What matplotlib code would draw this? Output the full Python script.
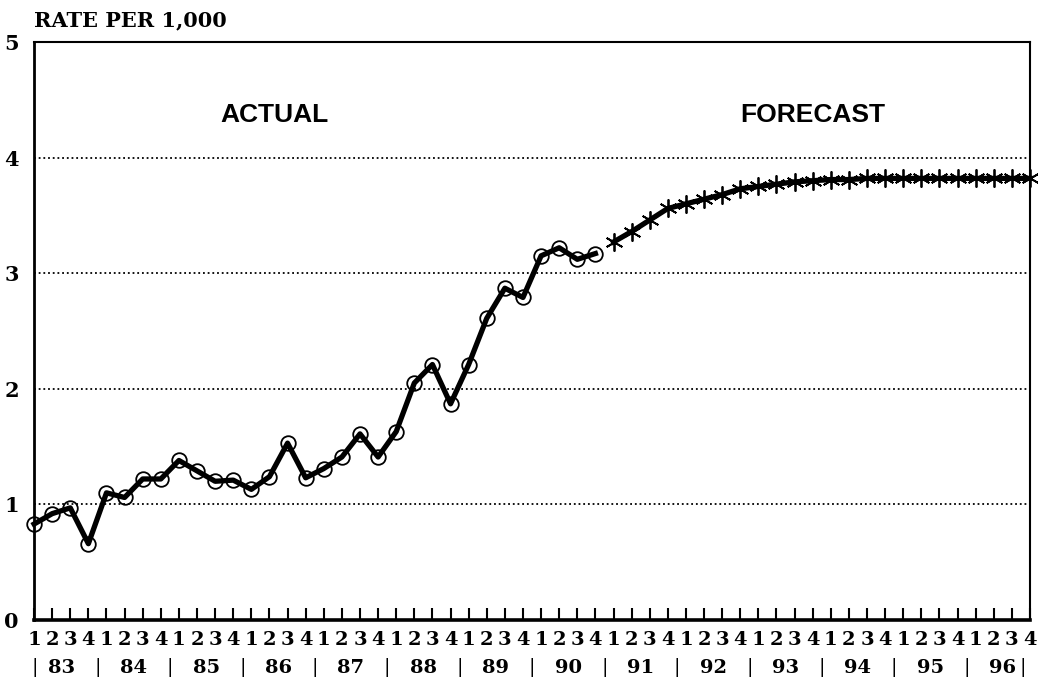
import matplotlib
matplotlib.use("Agg")
import matplotlib.pyplot as plt
import numpy as np

# quarterly rate per 1,000, 1983Q1 - 1990Q4 (actual) and 1991Q1 - 1996Q4 (forecast)
actual = [0.83, 0.92, 0.97, 0.66,
          1.10, 1.06, 1.22, 1.22,
          1.38, 1.29, 1.20, 1.21,
          1.13, 1.24, 1.53, 1.23,
          1.31, 1.41, 1.61, 1.41,
          1.63, 2.05, 2.21, 1.87,
          2.21, 2.61, 2.87, 2.79,
          3.15, 3.22, 3.12, 3.17]
forecast = [3.27, 3.36, 3.46, 3.56,
            3.60, 3.64, 3.68, 3.73,
            3.75, 3.77, 3.79, 3.80,
            3.81, 3.81, 3.82, 3.82,
            3.82, 3.82, 3.82, 3.82,
            3.82, 3.82, 3.82, 3.82]
years = ["83", "84", "85", "86", "87", "88", "89", "90",
         "91", "92", "93", "94", "95", "96"]
quarters = ["1", "2", "3", "4"]

serif = "DejaVu Serif"
sans = "Liberation Sans"

fig = plt.figure(figsize=(10.38, 6.86), dpi=100)
ax = fig.add_axes([0.0328, 0.0962, 0.9595, 0.8426])

xa = np.arange(len(actual))
xf = np.arange(len(actual), len(actual) + len(forecast))

ax.plot(xa, actual, color="black", lw=3.8, marker="o", ms=10.5,
        mfc="none", mec="black", mew=1.3, clip_on=False, zorder=3)
ax.plot(xf, forecast, color="black", lw=3.8, marker=(6, 2, 0), ms=13,
        mec="black", mew=1.3, clip_on=False, zorder=3)

ax.set_xlim(0, len(actual) + len(forecast) - 1)
ax.set_ylim(0, 5)

# dotted gridlines
for v in [1, 2, 3, 4]:
    ax.axhline(v, color="black", lw=1.3, ls=(0, (1, 1.6)), zorder=1)

for s in ax.spines.values():
    s.set_color("black")
ax.spines["bottom"].set_linewidth(2.6)
ax.spines["left"].set_linewidth(2.0)
ax.spines["top"].set_linewidth(1.5)
ax.spines["right"].set_linewidth(1.5)

n = len(actual) + len(forecast)
ax.set_xticks(np.arange(n))
ax.set_xticklabels([quarters[i % 4] for i in range(n)],
                   fontfamily=serif, fontweight="bold", fontsize=14)
ax.tick_params(axis="x", direction="in", length=9, width=1.5, pad=8)

ax.set_yticks(range(6))
ax.set_yticklabels([str(v) for v in range(6)],
                   fontfamily=serif, fontweight="bold", fontsize=15)
ax.tick_params(axis="y", length=0, pad=11)

# year row with separators
trans = ax.get_xaxis_transform()
for k, yr in enumerate(years):
    ax.text(4 * k + 1.5, -0.083, yr, transform=trans, ha="center", va="center",
            fontfamily=serif, fontweight="bold", fontsize=14, clip_on=False)
seps = [0.05] + [4 * k - 0.5 for k in range(1, len(years))] + [n - 1.4]
for s in seps:
    ax.text(s, -0.083, "|", transform=trans, ha="center", va="center",
            fontfamily=serif, fontsize=14, clip_on=False)

ax.text(13.3, 4.37, "ACTUAL", ha="center", va="center",
        fontfamily=sans, fontweight="bold", fontsize=19)
ax.text(43.0, 4.37, "FORECAST", ha="center", va="center",
        fontfamily=sans, fontweight="bold", fontsize=19)

fig.text(0.033, 0.97, "RATE PER 1,000", ha="left", va="center",
         fontfamily=serif, fontweight="bold", fontsize=15)

fig.savefig("out.png", dpi=100, facecolor="white")
